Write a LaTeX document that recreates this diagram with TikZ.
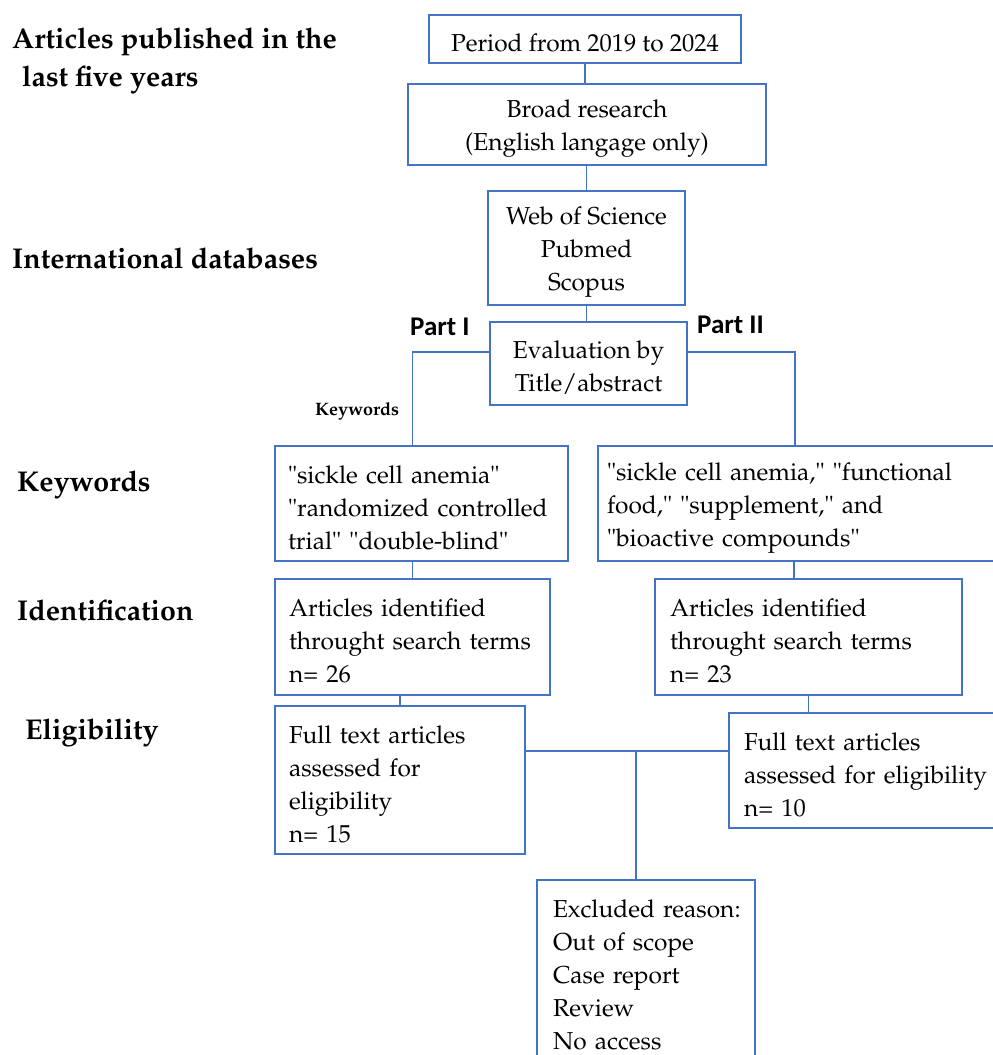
\documentclass[tikz,border=0pt]{standalone}
\usepackage{fontspec}
\newfontfamily\calib{Carlito}
\usepackage[T1]{fontenc}
\renewcommand{\rmdefault}{ppl}
\usetikzlibrary{calc}
\definecolor{bl}{RGB}{68,114,196}
\newcommand\dn{\rule{0pt}{26pt}}
\begin{document}
\begin{tikzpicture}[x=1pt,y=-1pt,
 ln/.style={draw=bl, line width=1.8pt},
 bx/.style={draw=bl, line width=1.8pt, rectangle, inner sep=0pt, outer sep=0pt, font=\fontsize{24.5}{33}\selectfont, align=center},
 lb/.style={bx, align=left, inner xsep=#1},
 lab/.style={font=\fontsize{28.6}{38}\selectfont\bfseries, anchor=west, inner sep=0pt, align=left},
 part/.style={font=\fontsize{27}{30}\fontencoding{TU}\calib\bfseries, anchor=west, inner sep=0pt}]
\useasboundingbox[fill=white] (0,0) rectangle (993,1055);
% boxes
\node[bx, minimum width=312pt, minimum height=48pt] (period) at (585,39) {\dn Period from 2019 to 2024};
\node[bx, minimum width=358pt, minimum height=81pt] (broad) at (587,124.5) {\dn Broad research\\(English langage only)};
\node[bx, minimum width=197pt, minimum height=114pt] (db) at (586.5,248) {\dn Web of Science\\Pubmed\\Scopus};
\node[bx, minimum width=197pt, minimum height=83pt] (eval) at (588.5,363.5) {\dn Evaluation by\\Title/abstract};
\node[lb=13pt, text width=267pt, minimum width=293pt, minimum height=115pt] (kwL) at (421.5,503.5) {\dn\mbox{"sickle cell anemia"}\\\mbox{"randomized controlled}\\\mbox{trial" "double-blind"}};
\node[lb=9pt, text width=389pt, minimum width=407pt, minimum height=115pt] (kwR) at (801.5,503.5) {\dn\mbox{"sickle cell anemia," "functional}\\\mbox{food," "supplement," and}\\\mbox{"bioactive compounds"}};
\node[lb=14pt, text width=247pt, minimum width=275pt, minimum height=116pt] (idL) at (412.5,637) {\dn\mbox{Articles identified}\\\mbox{throught search terms}\\n= 26};
\node[lb=15pt, text width=277pt, minimum width=307pt, minimum height=116pt] (idR) at (808.5,637) {\dn\mbox{Articles identified}\\\mbox{throught search terms}\\n= 23};
\node[lb=14pt, text width=222pt, minimum width=250pt, minimum height=148pt] (elL) at (400,780) {\dn\mbox{Full text articles}\\\mbox{assessed for}\\eligibility\\n= 15};
\node[lb=15pt, text width=246pt, minimum width=276pt, minimum height=115pt] (elR) at (867,770.5) {\dn\mbox{Full text articles}\\\mbox{assessed for eligibility}\\n= 10};
\node[lb=16pt, text width=186pt, minimum width=218pt, minimum height=182pt] (excl) at (646,971) {\dn\mbox{Excluded reason:}\\\mbox{Out of scope}\\\mbox{Case report}\\Review\\\mbox{No access}};
% left labels
\node[lab] (l1) at (12,61) {Articles published in the\\\hspace*{10pt}last five years};
\node[lab] (l2) at (12,258) {International databases};
\node[lab] (l3) at (17,485) {Keywords};
\node[lab] (l4) at (17,610) {Identification};
\node[lab] (l5) at (25,733) {Eligibility};
\node[part] (p1) at (410,327) {Part I};
\node[part] (p2) at (697,325) {Part II};
\node[font=\fontsize{18}{20}\selectfont\bfseries, anchor=west, inner sep=0pt] (kwsmall) at (315,411) {Keywords};
% connectors
\draw[ln] (period.south) -- (period.south |- broad.north);
\draw[ln] (db.north) -- (db.north |- broad.south);
\draw[ln] (db.south) -- (db.south |- eval.north);
\draw[ln] ([yshift=11.5pt]eval.west) -| (kwL.north -| idL.north);
\draw[ln] ([yshift=11.5pt]eval.east) -| ([xshift=-6.5pt]kwR.north);
\draw[ln] (idL.north) -- (idL.north |- kwL.south);
\draw[ln] ([xshift=-7.5pt]kwR.south) -- ([xshift=-7.5pt]kwR.south |- idR.north);
\draw[ln] (elL.north) -- (elL.north |- idL.south);
\draw[ln] (idR.south) -- (idR.south |- elR.north);
\coordinate (hj) at (636,751);
\draw[ln] (elL.east |- hj) -- (elR.west |- hj);
\draw[ln] (hj) -- (hj |- excl.north);
\end{tikzpicture}
\end{document}
